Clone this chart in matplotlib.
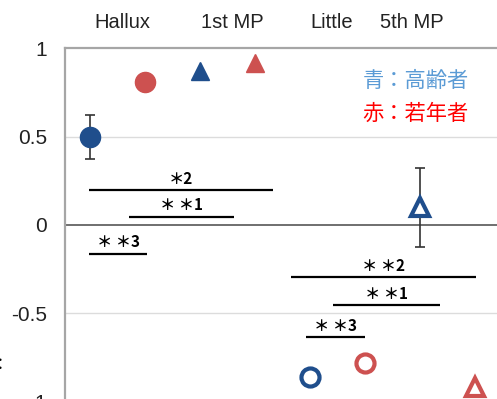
import numpy as np
import matplotlib.pyplot as plt
from matplotlib import rcParams

rcParams['font.family'] = ['Liberation Sans', 'Noto Sans CJK JP', 'DejaVu Sans']

# Sites along the top and group values (blue = elderly, red = young)
sites = ['Hallux', '1st MP', 'Little', '5th MP']
site_label_x = [0.58, 2.58, 4.4, 5.85]
elderly = [0.50, 0.87, -0.86, 0.10]
young = [0.81, 0.92, -0.78, -0.92]
elderly_err = [0.125, None, None, 0.225]
markers = ['o', '^', 'o', '^']
filled = [True, True, False, False]

# Significance bars: (x start, x end, y, label)
sig_bars = [
    (-0.02, 3.33, 0.198, '＊2'),
    (0.71, 2.62, 0.047, '＊ ＊1'),
    (-0.02, 1.04, -0.164, '＊ ＊3'),
    (3.65, 7.02, -0.296, '＊ ＊2'),
    (4.42, 6.36, -0.455, '＊ ＊1'),
    (3.93, 5.00, -0.636, '＊ ＊3'),
]

blue = '#1f4e8c'
red = '#cd5150'

fig = plt.figure(figsize=(4.97, 3.99), dpi=100)
ax = fig.add_axes([65 / 497, 1 - 401.6 / 399, 1 - 65 / 497, 353.2 / 399])
ax.set_xlim(-0.455, 7.40)
ax.set_ylim(-1, 1)

# light grid at +-0.5, darker zero line
for yv in [0.5, -0.5]:
    ax.axhline(yv, color='#dcdcdc', lw=1.0, zorder=0)
ax.axhline(0, color='#6f6f6f', lw=1.4, zorder=1)

for i in range(len(sites)):
    xb, xr = 2 * i, 2 * i + 1
    for x, v, c in [(xb, elderly[i], blue), (xr, young[i], red)]:
        if filled[i]:
            ms = 14.5 if markers[i] == 'o' else 13.5
            ax.plot(x, v, marker=markers[i], ms=ms, color=c, ls='none', zorder=4)
        else:
            ms = 13 if markers[i] == 'o' else 13
            ax.plot(x, v, marker=markers[i], ms=ms, mfc='white', mec=c,
                    mew=3, ls='none', zorder=4)
    if elderly_err[i] is not None:
        ax.errorbar(xb, elderly[i], yerr=elderly_err[i], fmt='none',
                    ecolor='#333333', elinewidth=1.2, capsize=3.5, capthick=1.2, zorder=3)

for x0, x1, y, lab in sig_bars:
    ax.plot([x0, x1], [y, y], color='black', lw=1.6, solid_capstyle='butt', zorder=2)
    ax.annotate(lab, ((x0 + x1) / 2, y), xytext=(0, 2.5), textcoords='offset points',
                ha='center', va='bottom', fontsize=11, fontweight='bold',
                family=['Noto Sans CJK JP', 'DejaVu Sans'])

for x, s in zip(site_label_x, sites):
    ax.text(x, 1.147, s, ha='center', va='center', fontsize=14.5, color='#222222',
            clip_on=False)

ax.text(4.95, 0.815, '青：高齢者', color='#5b9bd5', fontsize=15.3, ha='left', va='center',
        family=['Noto Sans CJK JP'])
ax.text(4.95, 0.63, '赤：若年者', color='#ff0000', fontsize=15.3, ha='left', va='center',
        family=['Noto Sans CJK JP'])

ax.set_yticks([-1, -0.5, 0, 0.5, 1])
ax.set_yticklabels(['-1', '-0.5', '0', '0.5', '1'])
ax.tick_params(axis='y', length=0, pad=13, labelsize=15, labelcolor='#222222')
ax.set_xticks([])
for side in ['right', 'bottom']:
    ax.spines[side].set_visible(False)
for side in ['left', 'top']:
    ax.spines[side].set_color('#a6a6a6')
    ax.spines[side].set_linewidth(1.6)

fig.text(0.0, 0.085, '：', fontsize=12, ha='center', va='center',
         family=['Noto Sans CJK JP'])

fig.savefig('out.png', dpi=100)
